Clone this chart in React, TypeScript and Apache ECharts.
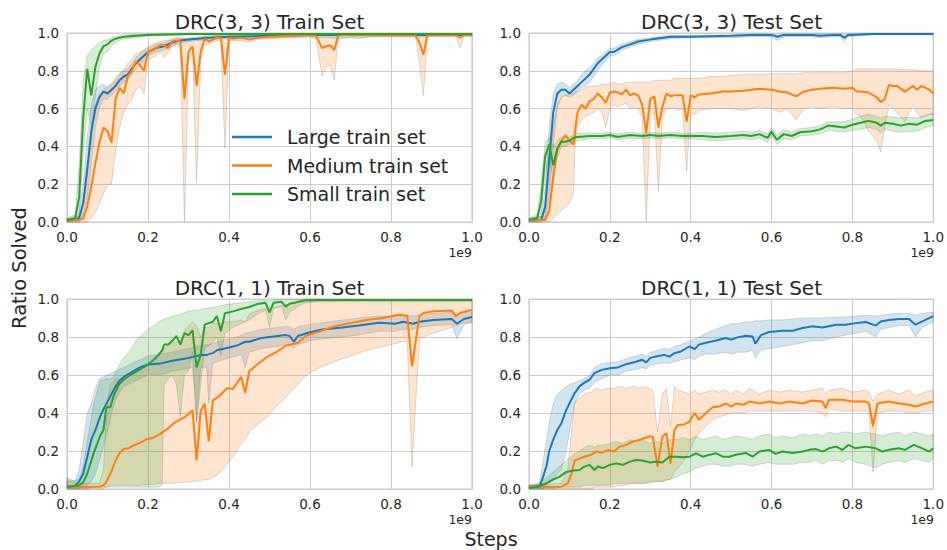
import React, { useEffect, useRef } from "react";
import * as echarts from "echarts";

// Each row: [steps (x1e9), mean ratio solved, band lower, band upper]
type Row = [number, number, number, number];

const SERIES_NAMES = ["Large train set", "Medium train set", "Small train set"];
const PANEL_TITLES = ["DRC(3, 3) Train Set", "DRC(3, 3) Test Set", "DRC(1, 1) Train Set", "DRC(1, 1) Test Set"];
const TICKS = [0, 0.2, 0.4, 0.6, 0.8, 1.0];
const X_LABEL = "Steps";
const Y_LABEL = "Ratio Solved";
const X_OFFSET_TEXT = "1e9";

// ---------- DRC(3,3) Train ----------
const drc33TrainLarge: Row[] = [
  [0, 0.01, 0.0, 0.02], [0.02, 0.01, 0.0, 0.02], [0.03, 0.02, 0.0, 0.05], [0.04, 0.1, 0.03, 0.2],
  [0.05, 0.28, 0.12, 0.45], [0.06, 0.48, 0.3, 0.62], [0.07, 0.6, 0.5, 0.7], [0.08, 0.66, 0.6, 0.72],
  [0.09, 0.69, 0.65, 0.73], [0.1, 0.68, 0.65, 0.71], [0.11, 0.7, 0.67, 0.73], [0.12, 0.72, 0.69, 0.75],
  [0.13, 0.75, 0.72, 0.78], [0.14, 0.77, 0.74, 0.8], [0.15, 0.78, 0.75, 0.81], [0.16, 0.81, 0.78, 0.84],
  [0.17, 0.84, 0.81, 0.87], [0.18, 0.86, 0.83, 0.89], [0.19, 0.88, 0.85, 0.91], [0.2, 0.9, 0.88, 0.92],
  [0.22, 0.92, 0.9, 0.94], [0.24, 0.93, 0.91, 0.95], [0.26, 0.95, 0.93, 0.965], [0.28, 0.96, 0.945, 0.97],
  [0.3, 0.965, 0.955, 0.975], [0.35, 0.975, 0.965, 0.985], [0.4, 0.98, 0.97, 0.99], [0.5, 0.985, 0.975, 0.99],
  [0.6, 0.99, 0.98, 0.995], [0.68, 0.99, 0.97, 0.995], [0.7, 0.99, 0.975, 0.995], [0.72, 0.99, 0.97, 0.995],
  [0.75, 0.99, 0.98, 0.995], [0.88, 0.99, 0.98, 0.995], [1.0, 0.99, 0.985, 0.995],
];
const drc33TrainMedium: Row[] = [
  [0, 0.01, 0.0, 0.02], [0.03, 0.01, 0.0, 0.03], [0.04, 0.02, 0.0, 0.1], [0.05, 0.08, 0.0, 0.25],
  [0.06, 0.19, 0.02, 0.45], [0.07, 0.31, 0.05, 0.62], [0.08, 0.42, 0.1, 0.68], [0.09, 0.5, 0.15, 0.7],
  [0.1, 0.48, 0.2, 0.72], [0.11, 0.42, 0.2, 0.73], [0.12, 0.65, 0.38, 0.76], [0.13, 0.71, 0.5, 0.79],
  [0.14, 0.68, 0.58, 0.8], [0.15, 0.77, 0.62, 0.84], [0.16, 0.8, 0.65, 0.86], [0.17, 0.85, 0.7, 0.89],
  [0.18, 0.83, 0.72, 0.9], [0.19, 0.8, 0.68, 0.91], [0.2, 0.9, 0.85, 0.93], [0.21, 0.91, 0.87, 0.94],
  [0.22, 0.92, 0.88, 0.95], [0.23, 0.935, 0.9, 0.955], [0.24, 0.935, 0.87, 0.96], [0.25, 0.92, 0.9, 0.96],
  [0.26, 0.955, 0.93, 0.97], [0.27, 0.96, 0.94, 0.975], [0.28, 0.955, 0.93, 0.975], [0.29, 0.65, 0.0, 0.97],
  [0.3, 0.9, 0.85, 0.96], [0.31, 0.93, 0.9, 0.97], [0.32, 0.72, 0.21, 0.97], [0.33, 0.9, 0.85, 0.97],
  [0.34, 0.97, 0.94, 0.985], [0.35, 0.955, 0.94, 0.975], [0.36, 0.965, 0.95, 0.98], [0.37, 0.975, 0.96, 0.985],
  [0.38, 0.975, 0.96, 0.985], [0.39, 0.78, 0.39, 0.98], [0.4, 0.975, 0.96, 0.985], [0.41, 0.97, 0.96, 0.98],
  [0.43, 0.975, 0.96, 0.985], [0.45, 0.965, 0.95, 0.98], [0.47, 0.975, 0.965, 0.985], [0.5, 0.98, 0.97, 0.99],
  [0.55, 0.985, 0.975, 0.99], [0.6, 0.99, 0.98, 0.995], [0.615, 0.985, 0.97, 0.995], [0.63, 0.92, 0.77, 0.99],
  [0.64, 0.93, 0.82, 0.99], [0.65, 0.935, 0.83, 0.99], [0.66, 0.91, 0.75, 0.99], [0.67, 0.99, 0.98, 0.995],
  [0.86, 0.99, 0.98, 0.995], [0.87, 0.95, 0.85, 0.99], [0.88, 0.885, 0.67, 0.99], [0.89, 0.99, 0.98, 0.995],
  [0.96, 0.99, 0.98, 0.995], [0.97, 0.975, 0.92, 0.99], [0.98, 0.99, 0.98, 0.995], [1.0, 0.99, 0.98, 0.995],
];
const drc33TrainSmall: Row[] = [
  [0, 0.01, 0.0, 0.02], [0.02, 0.02, 0.0, 0.04], [0.03, 0.13, 0.03, 0.3], [0.04, 0.55, 0.35, 0.75],
  [0.05, 0.81, 0.6, 0.88], [0.06, 0.67, 0.5, 0.91], [0.07, 0.82, 0.66, 0.93], [0.08, 0.89, 0.82, 0.95],
  [0.09, 0.93, 0.89, 0.96], [0.1, 0.94, 0.9, 0.965], [0.11, 0.96, 0.93, 0.975], [0.12, 0.97, 0.95, 0.98],
  [0.14, 0.98, 0.97, 0.99], [0.17, 0.985, 0.975, 0.992], [0.2, 0.99, 0.985, 0.995], [0.3, 0.995, 0.99, 0.998],
  [1.0, 0.995, 0.99, 0.998],
];

// ---------- DRC(3,3) Test ----------
const drc33TestLarge: Row[] = [
  [0, 0.01, 0.0, 0.02], [0.03, 0.01, 0.0, 0.03], [0.04, 0.08, 0.02, 0.18], [0.05, 0.33, 0.12, 0.5],
  [0.06, 0.58, 0.4, 0.68], [0.07, 0.68, 0.6, 0.73], [0.08, 0.7, 0.66, 0.74], [0.09, 0.7, 0.67, 0.73],
  [0.1, 0.68, 0.66, 0.71], [0.11, 0.7, 0.67, 0.73], [0.12, 0.72, 0.69, 0.75], [0.13, 0.74, 0.71, 0.78],
  [0.14, 0.76, 0.72, 0.8], [0.15, 0.78, 0.74, 0.82], [0.16, 0.81, 0.77, 0.84], [0.17, 0.84, 0.8, 0.87],
  [0.18, 0.86, 0.83, 0.88], [0.19, 0.88, 0.85, 0.9], [0.2, 0.9, 0.88, 0.92], [0.21, 0.9, 0.88, 0.92],
  [0.23, 0.925, 0.91, 0.94], [0.25, 0.94, 0.925, 0.955], [0.27, 0.955, 0.94, 0.965], [0.3, 0.965, 0.955, 0.975],
  [0.35, 0.98, 0.97, 0.988], [0.4, 0.98, 0.975, 0.988], [0.5, 0.985, 0.975, 0.99], [0.55, 0.99, 0.98, 0.995],
  [0.6, 0.99, 0.98, 0.995], [0.615, 0.98, 0.96, 0.99], [0.63, 0.99, 0.98, 0.995], [0.7, 0.99, 0.98, 0.995],
  [0.72, 0.985, 0.975, 0.995], [0.75, 0.99, 0.98, 0.995], [0.77, 0.99, 0.98, 0.995], [0.78, 0.975, 0.955, 0.99],
  [0.79, 0.99, 0.98, 0.995], [0.85, 0.995, 0.99, 0.998], [1.0, 0.995, 0.99, 0.998],
];
const drc33TestMedium: Row[] = [
  [0, 0.01, 0.0, 0.02], [0.04, 0.01, 0.0, 0.03], [0.05, 0.06, 0.0, 0.25], [0.06, 0.24, 0.02, 0.5],
  [0.07, 0.38, 0.04, 0.62], [0.08, 0.43, 0.06, 0.66], [0.09, 0.46, 0.08, 0.67], [0.1, 0.43, 0.1, 0.68],
  [0.11, 0.41, 0.15, 0.68], [0.115, 0.5, 0.45, 0.69], [0.12, 0.58, 0.5, 0.69], [0.13, 0.62, 0.54, 0.7],
  [0.14, 0.6, 0.56, 0.71], [0.15, 0.64, 0.57, 0.72], [0.16, 0.65, 0.58, 0.72], [0.17, 0.68, 0.6, 0.72],
  [0.18, 0.66, 0.58, 0.73], [0.19, 0.63, 0.5, 0.73], [0.2, 0.685, 0.6, 0.73], [0.21, 0.69, 0.62, 0.74],
  [0.22, 0.685, 0.61, 0.73], [0.23, 0.675, 0.62, 0.73], [0.24, 0.7, 0.63, 0.74], [0.25, 0.67, 0.6, 0.74],
  [0.26, 0.68, 0.61, 0.74], [0.27, 0.67, 0.6, 0.74], [0.28, 0.62, 0.55, 0.74], [0.29, 0.47, 0.0, 0.74],
  [0.3, 0.65, 0.56, 0.74], [0.31, 0.665, 0.58, 0.75], [0.32, 0.5, 0.16, 0.75], [0.33, 0.61, 0.55, 0.75],
  [0.34, 0.68, 0.6, 0.75], [0.35, 0.665, 0.6, 0.75], [0.36, 0.67, 0.6, 0.76], [0.37, 0.67, 0.59, 0.76],
  [0.38, 0.67, 0.6, 0.76], [0.39, 0.53, 0.27, 0.76], [0.4, 0.67, 0.58, 0.76], [0.41, 0.66, 0.57, 0.76],
  [0.42, 0.675, 0.59, 0.76], [0.45, 0.68, 0.6, 0.77], [0.48, 0.69, 0.6, 0.77], [0.5, 0.69, 0.6, 0.775],
  [0.53, 0.695, 0.59, 0.78], [0.55, 0.7, 0.6, 0.78], [0.57, 0.705, 0.61, 0.78], [0.6, 0.7, 0.6, 0.785],
  [0.62, 0.69, 0.58, 0.785], [0.64, 0.685, 0.6, 0.785], [0.66, 0.665, 0.54, 0.785], [0.68, 0.69, 0.6, 0.79],
  [0.7, 0.7, 0.61, 0.79], [0.72, 0.705, 0.6, 0.79], [0.75, 0.71, 0.61, 0.79], [0.78, 0.705, 0.6, 0.79],
  [0.8, 0.71, 0.6, 0.8], [0.81, 0.69, 0.57, 0.81], [0.82, 0.69, 0.56, 0.81], [0.84, 0.685, 0.48, 0.81],
  [0.86, 0.66, 0.43, 0.81], [0.87, 0.635, 0.37, 0.81], [0.88, 0.65, 0.5, 0.81], [0.89, 0.725, 0.62, 0.81],
  [0.9, 0.72, 0.6, 0.81], [0.91, 0.72, 0.58, 0.81], [0.93, 0.69, 0.53, 0.805], [0.95, 0.72, 0.62, 0.805],
  [0.96, 0.7, 0.58, 0.805], [0.97, 0.72, 0.55, 0.8], [0.99, 0.7, 0.57, 0.8], [1.0, 0.68, 0.57, 0.8],
];
const drc33TestSmall: Row[] = [
  [0, 0.01, 0.0, 0.02], [0.02, 0.02, 0.0, 0.04], [0.03, 0.11, 0.05, 0.2], [0.04, 0.35, 0.25, 0.42],
  [0.05, 0.41, 0.35, 0.45], [0.06, 0.3, 0.22, 0.4], [0.07, 0.39, 0.34, 0.43], [0.08, 0.425, 0.4, 0.45],
  [0.09, 0.425, 0.4, 0.45], [0.1, 0.43, 0.41, 0.45], [0.11, 0.445, 0.43, 0.46], [0.12, 0.45, 0.43, 0.47],
  [0.15, 0.455, 0.44, 0.47], [0.18, 0.455, 0.44, 0.47], [0.2, 0.46, 0.445, 0.475], [0.22, 0.45, 0.435, 0.465],
  [0.25, 0.46, 0.445, 0.475], [0.28, 0.455, 0.44, 0.47], [0.3, 0.46, 0.445, 0.475], [0.32, 0.455, 0.44, 0.47],
  [0.35, 0.46, 0.445, 0.475], [0.38, 0.455, 0.44, 0.47], [0.4, 0.455, 0.44, 0.47], [0.43, 0.455, 0.435, 0.475],
  [0.46, 0.45, 0.43, 0.47], [0.5, 0.455, 0.435, 0.475], [0.53, 0.46, 0.44, 0.48], [0.55, 0.455, 0.435, 0.475],
  [0.57, 0.465, 0.445, 0.485], [0.59, 0.445, 0.42, 0.465], [0.6, 0.478, 0.455, 0.5], [0.613, 0.435, 0.41, 0.46],
  [0.63, 0.465, 0.44, 0.49], [0.65, 0.455, 0.435, 0.475], [0.67, 0.475, 0.455, 0.495], [0.7, 0.48, 0.46, 0.5],
  [0.72, 0.49, 0.465, 0.51], [0.74, 0.51, 0.485, 0.53], [0.76, 0.505, 0.48, 0.53], [0.78, 0.5, 0.475, 0.53],
  [0.8, 0.515, 0.485, 0.545], [0.82, 0.525, 0.49, 0.56], [0.84, 0.535, 0.5, 0.57], [0.86, 0.525, 0.49, 0.56],
  [0.87, 0.51, 0.47, 0.55], [0.88, 0.525, 0.49, 0.56], [0.9, 0.52, 0.48, 0.555], [0.92, 0.51, 0.475, 0.55],
  [0.94, 0.52, 0.48, 0.555], [0.96, 0.515, 0.48, 0.55], [0.98, 0.535, 0.5, 0.565], [1.0, 0.54, 0.51, 0.575],
];

// ---------- DRC(1,1) Train ----------
const drc11TrainLarge: Row[] = [
  [0, 0.01, 0.0, 0.06], [0.02, 0.015, 0.0, 0.04], [0.03, 0.04, 0.0, 0.1], [0.04, 0.08, 0.01, 0.25],
  [0.05, 0.17, 0.02, 0.4], [0.06, 0.26, 0.04, 0.45], [0.07, 0.31, 0.08, 0.53], [0.08, 0.37, 0.15, 0.58],
  [0.09, 0.42, 0.22, 0.59], [0.1, 0.46, 0.3, 0.6], [0.11, 0.5, 0.4, 0.61], [0.12, 0.54, 0.47, 0.62],
  [0.13, 0.57, 0.51, 0.63], [0.14, 0.59, 0.54, 0.64], [0.16, 0.615, 0.56, 0.66], [0.18, 0.64, 0.58, 0.68],
  [0.2, 0.655, 0.6, 0.7], [0.23, 0.66, 0.6, 0.71], [0.26, 0.675, 0.62, 0.72], [0.29, 0.685, 0.63, 0.735],
  [0.31, 0.695, 0.64, 0.745], [0.32, 0.7, 0.36, 0.75], [0.33, 0.705, 0.64, 0.755], [0.345, 0.705, 0.64, 0.76],
  [0.35, 0.71, 0.45, 0.76], [0.36, 0.715, 0.66, 0.765], [0.37, 0.73, 0.67, 0.775], [0.4, 0.745, 0.69, 0.79],
  [0.42, 0.755, 0.7, 0.8], [0.43, 0.765, 0.71, 0.81], [0.44, 0.775, 0.64, 0.82], [0.45, 0.775, 0.72, 0.825],
  [0.48, 0.795, 0.74, 0.84], [0.52, 0.805, 0.75, 0.85], [0.54, 0.81, 0.76, 0.855], [0.55, 0.805, 0.76, 0.855],
  [0.56, 0.775, 0.74, 0.84], [0.57, 0.805, 0.76, 0.855], [0.6, 0.825, 0.78, 0.865], [0.63, 0.84, 0.79, 0.875],
  [0.68, 0.85, 0.8, 0.89], [0.72, 0.86, 0.81, 0.9], [0.77, 0.875, 0.83, 0.91], [0.81, 0.87, 0.83, 0.91],
  [0.83, 0.88, 0.84, 0.915], [0.855, 0.87, 0.84, 0.91], [0.87, 0.88, 0.85, 0.915], [0.905, 0.89, 0.86, 0.925],
  [0.95, 0.895, 0.865, 0.93], [0.963, 0.87, 0.79, 0.92], [0.98, 0.895, 0.865, 0.93], [1.0, 0.905, 0.875, 0.94],
];
const drc11TrainMedium: Row[] = [
  [0, 0.01, 0.0, 0.05], [0.02, 0.01, 0.0, 0.03], [0.08, 0.012, 0.0, 0.03], [0.09, 0.02, 0.0, 0.1],
  [0.095, 0.03, 0.01, 0.3], [0.1, 0.05, 0.01, 0.45], [0.107, 0.08, 0.02, 0.55], [0.12, 0.15, 0.02, 0.58],
  [0.13, 0.19, 0.02, 0.58], [0.14, 0.21, 0.02, 0.59], [0.152, 0.215, 0.02, 0.6], [0.165, 0.23, 0.02, 0.61],
  [0.177, 0.24, 0.02, 0.63], [0.2, 0.265, 0.025, 0.65], [0.214, 0.27, 0.025, 0.67], [0.23, 0.29, 0.03, 0.71],
  [0.247, 0.315, 0.03, 0.75], [0.263, 0.345, 0.03, 0.77], [0.28, 0.367, 0.035, 0.78], [0.292, 0.38, 0.035, 0.84],
  [0.31, 0.415, 0.04, 0.88], [0.32, 0.15, 0.04, 0.86], [0.33, 0.41, 0.045, 0.8], [0.34, 0.45, 0.05, 0.85],
  [0.35, 0.25, 0.05, 0.85], [0.36, 0.465, 0.06, 0.87], [0.375, 0.487, 0.08, 0.87], [0.395, 0.53, 0.13, 0.88],
  [0.41, 0.527, 0.17, 0.88], [0.43, 0.59, 0.24, 0.89], [0.44, 0.505, 0.26, 0.88], [0.45, 0.62, 0.3, 0.92],
  [0.47, 0.655, 0.34, 0.94], [0.49, 0.69, 0.37, 0.95], [0.52, 0.724, 0.44, 0.96], [0.54, 0.754, 0.48, 0.97],
  [0.57, 0.77, 0.55, 0.98], [0.59, 0.807, 0.6, 0.985], [0.625, 0.83, 0.64, 0.99], [0.66, 0.856, 0.67, 0.99],
  [0.7, 0.873, 0.7, 0.995], [0.74, 0.89, 0.73, 0.995], [0.78, 0.9, 0.75, 0.995], [0.82, 0.917, 0.77, 0.995],
  [0.84, 0.912, 0.78, 0.995], [0.852, 0.645, 0.115, 0.99], [0.87, 0.91, 0.79, 0.995], [0.88, 0.926, 0.8, 0.995],
  [0.905, 0.935, 0.82, 0.995], [0.95, 0.94, 0.85, 0.995], [0.96, 0.91, 0.86, 0.995], [0.97, 0.926, 0.87, 0.995],
  [1.0, 0.944, 0.88, 0.995],
];
const drc11TrainSmall: Row[] = [
  [0, 0.01, 0.0, 0.04], [0.03, 0.02, 0.0, 0.05], [0.04, 0.035, 0.0, 0.12], [0.05, 0.08, 0.0, 0.25],
  [0.066, 0.19, 0.01, 0.45], [0.082, 0.28, 0.01, 0.57], [0.09, 0.31, 0.01, 0.575], [0.097, 0.43, 0.01, 0.58],
  [0.107, 0.43, 0.01, 0.58], [0.115, 0.49, 0.01, 0.59], [0.128, 0.55, 0.01, 0.65], [0.14, 0.575, 0.01, 0.69],
  [0.156, 0.6, 0.01, 0.73], [0.173, 0.62, 0.01, 0.79], [0.2, 0.655, 0.01, 0.84], [0.214, 0.68, 0.01, 0.86],
  [0.226, 0.705, 0.01, 0.88], [0.235, 0.73, 0.02, 0.89], [0.24, 0.76, 0.55, 0.895], [0.25, 0.76, 0.58, 0.9],
  [0.26, 0.78, 0.6, 0.91], [0.27, 0.805, 0.55, 0.915], [0.28, 0.76, 0.38, 0.92], [0.29, 0.82, 0.6, 0.93],
  [0.3, 0.81, 0.62, 0.935], [0.31, 0.835, 0.72, 0.94], [0.32, 0.64, 0.35, 0.94], [0.33, 0.705, 0.55, 0.945],
  [0.34, 0.865, 0.74, 0.95], [0.36, 0.88, 0.77, 0.955], [0.37, 0.91, 0.8, 0.96], [0.38, 0.83, 0.7, 0.965],
  [0.39, 0.925, 0.82, 0.97], [0.41, 0.935, 0.85, 0.975], [0.43, 0.947, 0.87, 0.98], [0.45, 0.958, 0.89, 0.985],
  [0.47, 0.974, 0.92, 0.99], [0.49, 0.98, 0.94, 0.993], [0.5, 0.93, 0.85, 0.99], [0.51, 0.98, 0.95, 0.995],
  [0.53, 0.985, 0.96, 0.997], [0.54, 0.96, 0.89, 0.997], [0.55, 0.975, 0.93, 0.997], [0.57, 0.985, 0.96, 0.998],
  [0.59, 0.993, 0.98, 0.999], [0.62, 0.995, 0.985, 1.0], [1.0, 0.995, 0.985, 1.0],
];

// ---------- DRC(1,1) Test ----------
const drc11TestLarge: Row[] = [
  [0, 0.01, 0.0, 0.02], [0.02, 0.015, 0.0, 0.03], [0.026, 0.012, 0.0, 0.03], [0.035, 0.065, 0.0, 0.15],
  [0.043, 0.12, 0.02, 0.25], [0.05, 0.2, 0.04, 0.35], [0.06, 0.26, 0.06, 0.45], [0.07, 0.31, 0.08, 0.5],
  [0.08, 0.345, 0.1, 0.52], [0.092, 0.415, 0.2, 0.54], [0.1, 0.45, 0.3, 0.55], [0.113, 0.505, 0.45, 0.56],
  [0.125, 0.54, 0.5, 0.57], [0.137, 0.56, 0.52, 0.58], [0.15, 0.575, 0.53, 0.6], [0.162, 0.61, 0.56, 0.64],
  [0.18, 0.627, 0.58, 0.66], [0.2, 0.636, 0.6, 0.665], [0.22, 0.64, 0.6, 0.67], [0.24, 0.657, 0.62, 0.685],
  [0.265, 0.67, 0.63, 0.7], [0.28, 0.68, 0.64, 0.71], [0.29, 0.666, 0.63, 0.7], [0.3, 0.69, 0.65, 0.72],
  [0.32, 0.7, 0.66, 0.73], [0.335, 0.706, 0.665, 0.74], [0.347, 0.697, 0.66, 0.735], [0.36, 0.715, 0.67, 0.75],
  [0.376, 0.724, 0.68, 0.76], [0.397, 0.75, 0.69, 0.78], [0.41, 0.736, 0.68, 0.79], [0.42, 0.76, 0.7, 0.8],
  [0.438, 0.77, 0.71, 0.82], [0.46, 0.78, 0.71, 0.84], [0.487, 0.795, 0.72, 0.86], [0.5, 0.786, 0.71, 0.87],
  [0.516, 0.798, 0.72, 0.87], [0.536, 0.807, 0.72, 0.88], [0.553, 0.803, 0.73, 0.88], [0.56, 0.765, 0.69, 0.885],
  [0.574, 0.81, 0.73, 0.885], [0.594, 0.826, 0.74, 0.89], [0.627, 0.833, 0.75, 0.89], [0.652, 0.833, 0.76, 0.895],
  [0.677, 0.847, 0.77, 0.9], [0.7, 0.856, 0.78, 0.9], [0.726, 0.85, 0.78, 0.9], [0.76, 0.865, 0.8, 0.905],
  [0.783, 0.865, 0.81, 0.905], [0.808, 0.873, 0.82, 0.91], [0.833, 0.879, 0.83, 0.915], [0.858, 0.86, 0.8, 0.91],
  [0.87, 0.882, 0.84, 0.915], [0.89, 0.89, 0.85, 0.92], [0.915, 0.895, 0.86, 0.925], [0.94, 0.895, 0.86, 0.925],
  [0.956, 0.865, 0.8, 0.915], [0.973, 0.882, 0.85, 0.925], [1.0, 0.91, 0.88, 0.93],
];
const drc11TestMedium: Row[] = [
  [0, 0.01, 0.0, 0.02], [0.08, 0.012, 0.0, 0.03], [0.096, 0.03, 0.0, 0.1], [0.105, 0.08, 0.0, 0.3],
  [0.113, 0.15, 0.0, 0.45], [0.125, 0.16, 0.0, 0.48], [0.137, 0.17, 0.0, 0.5], [0.154, 0.18, 0.0, 0.51],
  [0.166, 0.197, 0.01, 0.53], [0.18, 0.19, 0.01, 0.52], [0.195, 0.205, 0.01, 0.53], [0.21, 0.197, 0.01, 0.53],
  [0.224, 0.223, 0.02, 0.54], [0.24, 0.232, 0.02, 0.53], [0.257, 0.25, 0.03, 0.54], [0.273, 0.258, 0.03, 0.53],
  [0.285, 0.267, 0.03, 0.54], [0.298, 0.276, 0.04, 0.53], [0.306, 0.276, 0.04, 0.52], [0.318, 0.118, 0.04, 0.3],
  [0.33, 0.276, 0.04, 0.5], [0.34, 0.293, 0.05, 0.53], [0.35, 0.135, 0.05, 0.33], [0.36, 0.31, 0.09, 0.54],
  [0.368, 0.337, 0.11, 0.52], [0.384, 0.34, 0.15, 0.51], [0.397, 0.355, 0.2, 0.5], [0.41, 0.4, 0.26, 0.52],
  [0.42, 0.364, 0.29, 0.5], [0.438, 0.4, 0.33, 0.51], [0.454, 0.43, 0.364, 0.52], [0.47, 0.434, 0.38, 0.51],
  [0.487, 0.45, 0.39, 0.52], [0.5, 0.434, 0.4, 0.5], [0.512, 0.45, 0.4, 0.52], [0.53, 0.443, 0.4, 0.5],
  [0.545, 0.46, 0.41, 0.53], [0.57, 0.45, 0.41, 0.5], [0.594, 0.46, 0.41, 0.52], [0.62, 0.45, 0.41, 0.51],
  [0.644, 0.46, 0.41, 0.52], [0.677, 0.45, 0.41, 0.51], [0.7, 0.466, 0.41, 0.52], [0.726, 0.46, 0.4, 0.53],
  [0.734, 0.425, 0.38, 0.5], [0.742, 0.47, 0.42, 0.52], [0.775, 0.47, 0.41, 0.53], [0.8, 0.46, 0.41, 0.51],
  [0.833, 0.46, 0.41, 0.52], [0.841, 0.45, 0.4, 0.51], [0.851, 0.33, 0.09, 0.46], [0.862, 0.45, 0.4, 0.5],
  [0.89, 0.46, 0.41, 0.52], [0.915, 0.45, 0.41, 0.5], [0.94, 0.443, 0.4, 0.52], [0.956, 0.434, 0.4, 0.49],
  [0.98, 0.45, 0.41, 0.51], [1.0, 0.46, 0.41, 0.52],
];
const drc11TestSmall: Row[] = [
  [0, 0.005, 0.0, 0.02], [0.02, 0.01, 0.0, 0.02], [0.043, 0.03, 0.0, 0.06], [0.06, 0.05, 0.0, 0.09],
  [0.076, 0.065, 0.01, 0.12], [0.092, 0.09, 0.01, 0.15], [0.11, 0.097, 0.01, 0.18], [0.125, 0.1, 0.01, 0.2],
  [0.137, 0.118, 0.02, 0.22], [0.15, 0.127, 0.02, 0.23], [0.162, 0.1, 0.02, 0.22], [0.17, 0.118, 0.02, 0.23],
  [0.183, 0.11, 0.02, 0.23], [0.2, 0.127, 0.02, 0.24], [0.215, 0.135, 0.03, 0.25], [0.232, 0.127, 0.03, 0.24],
  [0.25, 0.144, 0.03, 0.26], [0.265, 0.153, 0.03, 0.25], [0.28, 0.15, 0.03, 0.26], [0.298, 0.14, 0.03, 0.24],
  [0.314, 0.144, 0.04, 0.25], [0.33, 0.139, 0.04, 0.24], [0.347, 0.17, 0.05, 0.26], [0.364, 0.17, 0.06, 0.26],
  [0.38, 0.167, 0.08, 0.27], [0.397, 0.17, 0.09, 0.26], [0.413, 0.188, 0.11, 0.28], [0.43, 0.17, 0.12, 0.26],
  [0.446, 0.18, 0.13, 0.27], [0.463, 0.188, 0.13, 0.28], [0.48, 0.17, 0.12, 0.26], [0.495, 0.17, 0.12, 0.27],
  [0.512, 0.18, 0.13, 0.28], [0.536, 0.19, 0.13, 0.27], [0.553, 0.17, 0.12, 0.26], [0.57, 0.197, 0.13, 0.28],
  [0.594, 0.206, 0.14, 0.29], [0.61, 0.185, 0.13, 0.27], [0.627, 0.197, 0.13, 0.28], [0.652, 0.19, 0.13, 0.27],
  [0.677, 0.197, 0.14, 0.29], [0.693, 0.206, 0.14, 0.28], [0.71, 0.21, 0.15, 0.29], [0.726, 0.197, 0.13, 0.28],
  [0.742, 0.214, 0.15, 0.3], [0.76, 0.223, 0.15, 0.29], [0.775, 0.206, 0.14, 0.3], [0.79, 0.232, 0.16, 0.3],
  [0.808, 0.214, 0.14, 0.29], [0.833, 0.223, 0.13, 0.3], [0.858, 0.214, 0.11, 0.29], [0.874, 0.197, 0.13, 0.28],
  [0.89, 0.206, 0.14, 0.29], [0.915, 0.214, 0.15, 0.3], [0.93, 0.206, 0.14, 0.28], [0.952, 0.232, 0.16, 0.3],
  [0.973, 0.214, 0.15, 0.29], [0.99, 0.197, 0.14, 0.28], [1.0, 0.214, 0.16, 0.29],
];

const PANELS: Row[][][] = [
  [drc33TrainLarge, drc33TrainMedium, drc33TrainSmall],
  [drc33TestLarge, drc33TestMedium, drc33TestSmall],
  [drc11TrainLarge, drc11TrainMedium, drc11TrainSmall],
  [drc11TestLarge, drc11TestMedium, drc11TestSmall],
];

// ---------- styling / layout ----------
const COLORS = ["#1f77b4", "#ff7f0e", "#2ca02c"];
const BAND_FILLS = ["rgba(31,119,180,0.2)", "rgba(255,127,14,0.2)", "rgba(44,160,44,0.2)"];
const FONT = "DejaVu Sans";
const TEXT = "#262626";
const GRID_COLOR = "#cccccc";
const GRIDS = [
  { left: 67, top: 33, width: 405, height: 189 },
  { left: 529, top: 33, width: 405, height: 189 },
  { left: 67, top: 299, width: 405, height: 190 },
  { left: 529, top: 299, width: 405, height: 190 },
];

function buildOption() {
  const grid = GRIDS.map((g) => ({ ...g, show: true, borderColor: GRID_COLOR, borderWidth: 1.25, containLabel: false }));
  const axisCommon = {
    type: "value" as const,
    min: TICKS[0],
    max: TICKS[TICKS.length - 1],
    interval: TICKS[1] - TICKS[0],
    axisLine: { show: false },
    axisTick: { show: false },
    splitLine: { show: true, lineStyle: { color: GRID_COLOR, width: 1 } },
    axisLabel: {
      color: TEXT,
      fontSize: 13.5,
      fontFamily: FONT,
      margin: 8,
      showMinLabel: true,
      showMaxLabel: true,
      formatter: (v: number) => v.toFixed(1),
    },
  };
  const xAxis = GRIDS.map((_, i) => ({ ...axisCommon, gridIndex: i }));
  const yAxis = GRIDS.map((_, i) => ({ ...axisCommon, gridIndex: i }));

  const series: any[] = [];
  PANELS.forEach((panel, pi) => {
    panel.forEach((rows, si) => {
      series.push({
        type: "custom",
        xAxisIndex: pi,
        yAxisIndex: pi,
        silent: true,
        z: 2,
        data: [[rows[0][0], rows[0][1]]],
        renderItem: (_params: any, api: any) => {
          const upper = rows.map((r) => api.coord([r[0], r[3]]));
          const lower = rows
            .slice()
            .reverse()
            .map((r) => api.coord([r[0], r[2]]));
          return {
            type: "polygon",
            shape: { points: upper.concat(lower) },
            style: { fill: BAND_FILLS[si], stroke: "rgba(110,110,110,0.3)", lineWidth: 0.8 },
          };
        },
      });
    });
  });
  PANELS.forEach((panel, pi) => {
    panel.forEach((rows, si) => {
      series.push({
        name: SERIES_NAMES[si],
        type: "line",
        xAxisIndex: pi,
        yAxisIndex: pi,
        z: 3 + si,
        symbol: "none",
        color: COLORS[si],
        lineStyle: { width: 2, color: COLORS[si] },
        data: rows.map((r) => [r[0], r[1]]),
      });
    });
  });

  const graphic: any[] = [];
  const txt = (text: string, x: number, y: number, size: number, align = "center", rotation = 0) => ({
    type: "text",
    x,
    y,
    rotation,
    style: { text, fontSize: size, fontFamily: FONT, fill: TEXT, align, verticalAlign: "middle" },
  });
  GRIDS.forEach((g, i) => {
    graphic.push(txt(PANEL_TITLES[i], g.left + g.width / 2, g.top - 11, 20));
    graphic.push(txt(X_OFFSET_TEXT, g.left + g.width, g.top + g.height + 30.5, 12.5, "right"));
  });
  graphic.push(txt(X_LABEL, 491, 539, 19));
  graphic.push(txt(Y_LABEL, 19.5, 268, 19.5, "center", Math.PI / 2));

  return {
    animation: false,
    backgroundColor: "#ffffff",
    grid,
    xAxis,
    yAxis,
    legend: {
      data: SERIES_NAMES,
      orient: "vertical",
      left: 227,
      top: 122,
      icon: "rect",
      itemWidth: 40,
      itemHeight: 2.5,
      itemGap: 8.5,
      selectedMode: false,
      textStyle: { fontSize: 19, fontFamily: FONT, color: TEXT, lineHeight: 20, padding: [0, 0, 0, 10] },
    },
    series,
    graphic,
  };
}

export default function App() {
  const ref = useRef<HTMLDivElement>(null);
  useEffect(() => {
    if (!ref.current) return;
    const chart = echarts.init(ref.current, undefined, { renderer: "svg" });
    chart.setOption(buildOption() as any);
    return () => chart.dispose();
  }, []);
  return (
    <div
      ref={ref}
      style={{ position: "absolute", left: 0, top: 0, width: 947, height: 550, background: "#fff" }}
    />
  );
}
